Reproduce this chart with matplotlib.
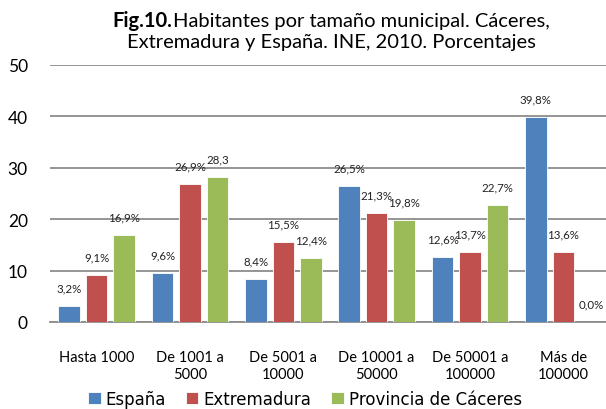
import matplotlib
matplotlib.use("Agg")
import matplotlib.pyplot as plt
import numpy as np
from matplotlib.offsetbox import TextArea, HPacker, VPacker, AnchoredOffsetbox

categories = ["Hasta 1000", "De 1001 a\n5000", "De 5001 a\n10000", "De 10001 a\n50000", "De 50001 a\n100000", "Más de\n100000"]
espana = [3.2, 9.6, 8.4, 26.5, 12.6, 39.8]
extremadura = [9.1, 26.9, 15.5, 21.3, 13.7, 13.6]
caceres = [16.9, 28.3, 12.4, 19.8, 22.7, 0.0]
lab_espana = ["3,2%", "9,6%", "8,4%", "26,5%", "12,6%", "39,8%"]
lab_extremadura = ["9,1%", "26,9%", "15,5%", "21,3%", "13,7%", "13,6%"]
lab_caceres = ["16,9%", "28,3", "12,4%", "19,8%", "22,7%", "0,0%"]
series_names = ["España", "Extremadura", "Provincia de Cáceres"]
colors = ["#4F81BD", "#C0504D", "#9BBB59"]
yticks = [0, 10, 20, 30, 40, 50]

fig = plt.figure(figsize=(6.06, 4.10), dpi=100)
ax = fig.add_axes([50/606, (410-323)/410, 560/606, 257/410])

x = np.arange(len(categories))
w = 0.23
off = 0.294
series = [espana, extremadura, caceres]
labels = [lab_espana, lab_extremadura, lab_caceres]
for i, (vals, labs, c, name) in enumerate(zip(series, labels, colors, series_names)):
    xs = x + (i - 1) * off
    ax.bar(xs, vals, width=w, color=c, edgecolor="white", linewidth=0.6, zorder=3, label=name)
    for xi, v, l in zip(xs, vals, labs):
        ax.annotate(l, (xi, v), xytext=(0, 13), textcoords="offset points",
                    ha="center", va="center", fontsize=8.3, family="Lato", color="#222222")

ax.set_xlim(-0.5, 5.5)
ax.set_ylim(0, 50)
ax.set_yticks(yticks)
ax.set_yticklabels([str(t) for t in yticks], fontsize=12.5, family="Lato")
ax.yaxis.grid(True, color="#8C8C8C", linewidth=1.3, zorder=0)
ax.set_axisbelow(True)
for s in ["top", "right", "left"]:
    ax.spines[s].set_visible(False)
ax.spines["bottom"].set_color("#8C8C8C")
ax.spines["bottom"].set_linewidth(1.3)
ax.tick_params(axis="y", length=0, pad=16)
ax.tick_params(axis="x", length=0, pad=20)
ax.set_xticks(x)
ax.set_xticklabels(categories, fontsize=10.5, family="Lato", linespacing=1.25)

# title with bold prefix
b = TextArea("Fig.10.", textprops=dict(fontsize=14.5, family="Lato", fontweight="bold"))
r1 = TextArea("Habitantes por tamaño municipal. Cáceres,", textprops=dict(fontsize=14.5, family="Lato"))
line1 = HPacker(children=[b, r1], pad=0, sep=0, align="baseline")
line2 = TextArea("Extremadura y España. INE, 2010. Porcentajes", textprops=dict(fontsize=14.5, family="Lato"))
box = VPacker(children=[line1, line2], pad=0, sep=2, align="center")
ab = AnchoredOffsetbox(loc="upper center", child=box, frameon=False,
                       bbox_to_anchor=(331/606, 1.0 - 11/410), bbox_transform=fig.transFigure, borderpad=0, pad=0)
fig.add_artist(ab)

leg = fig.legend(loc="center", bbox_to_anchor=(305/606, 1 - 400/410), ncol=3, frameon=False,
                 prop=dict(family="DejaVu Sans", size=12), handlelength=0.75, handleheight=0.75,
                 handletextpad=0.3, columnspacing=1.2, borderaxespad=0)

fig.savefig("out.png", dpi=100)
